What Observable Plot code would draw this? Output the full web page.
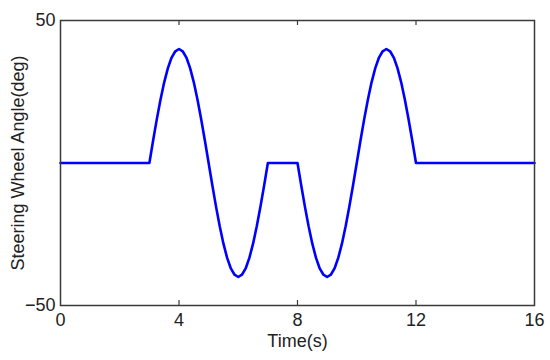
<!DOCTYPE html>
<html>
<head>
<meta charset="utf-8">
<script src="https://cdn.jsdelivr.net/npm/d3@7"></script>
<script src="https://cdn.jsdelivr.net/npm/@observablehq/plot@0.6"></script>
<style>
  html, body { margin: 0; padding: 0; background: #fff; }
</style>
</head>
<body>
<div id="chart"></div>
<script>
// Sample times (s)
const time = [
  0,
  3, 3.125, 3.25, 3.375, 3.5, 3.625, 3.75, 3.875,
  4, 4.125, 4.25, 4.375, 4.5, 4.625, 4.75, 4.875,
  5, 5.125, 5.25, 5.375, 5.5, 5.625, 5.75, 5.875,
  6, 6.125, 6.25, 6.375, 6.5, 6.625, 6.75, 6.875,
  7,
  8, 8.125, 8.25, 8.375, 8.5, 8.625, 8.75, 8.875,
  9, 9.125, 9.25, 9.375, 9.5, 9.625, 9.75, 9.875,
  10, 10.125, 10.25, 10.375, 10.5, 10.625, 10.75, 10.875,
  11, 11.125, 11.25, 11.375, 11.5, 11.625, 11.75, 11.875,
  12,
  16
];
// Steering wheel angle (deg) at those times
const angle = [
  0,
  0, 7.8, 15.3, 22.2, 28.3, 33.3, 37.0, 39.2,
  40, 39.2, 37.0, 33.3, 28.3, 22.2, 15.3, 7.8,
  0, -7.8, -15.3, -22.2, -28.3, -33.3, -37.0, -39.2,
  -40, -39.2, -37.0, -33.3, -28.3, -22.2, -15.3, -7.8,
  0,
  0, -7.8, -15.3, -22.2, -28.3, -33.3, -37.0, -39.2,
  -40, -39.2, -37.0, -33.3, -28.3, -22.2, -15.3, -7.8,
  0, 7.8, 15.3, 22.2, 28.3, 33.3, 37.0, 39.2,
  40, 39.2, 37.0, 33.3, 28.3, 22.2, 15.3, 7.8,
  0,
  0
];
const xTicks = [0, 4, 8, 12, 16];
const xInnerTicks = [4, 8, 12];
const yTicks = [-50, 50];
const xLabel = "Time(s)";
const yLabel = "Steering Wheel Angle(deg)";

const rows = time.map((t, i) => ({t, a: angle[i]}));

const chart = Plot.plot({
  width: 550,
  height: 360,
  marginLeft: 60,
  marginRight: 16,
  marginTop: 20,
  marginBottom: 55,
  style: {fontFamily: "'Liberation Sans', Arial, sans-serif", fontSize: "18px", color: "#222", background: "#fff"},
  x: {domain: [0, 16]},
  y: {domain: [-50, 50]},
  marks: [
    Plot.line(rows, {x: "t", y: "a", stroke: "#0000ff", strokeWidth: 2.6}),
    Plot.ruleX(xInnerTicks, {x: d => d, insetBottom: 280, stroke: "#3a3a3a", strokeWidth: 1.2}),
    Plot.ruleX(xInnerTicks, {x: d => d, insetTop: 280, stroke: "#3a3a3a", strokeWidth: 1.2}),
    Plot.frame({stroke: "#3a3a3a", strokeWidth: 1.5}),
    Plot.axisX({anchor: "bottom", ticks: xTicks, tickSize: 0, tickPadding: 8, label: null}),
    Plot.axisY({anchor: "left", ticks: yTicks, tickSize: 0, tickPadding: 5, label: null}),
    Plot.text([xLabel], {frameAnchor: "bottom", dy: 41, fill: "#222"}),
    Plot.text([yLabel], {frameAnchor: "left", textAnchor: "middle", dx: -42, rotate: -90, fill: "#222"})
  ]
});
document.getElementById("chart").appendChild(chart);
</script>
</body>
</html>
